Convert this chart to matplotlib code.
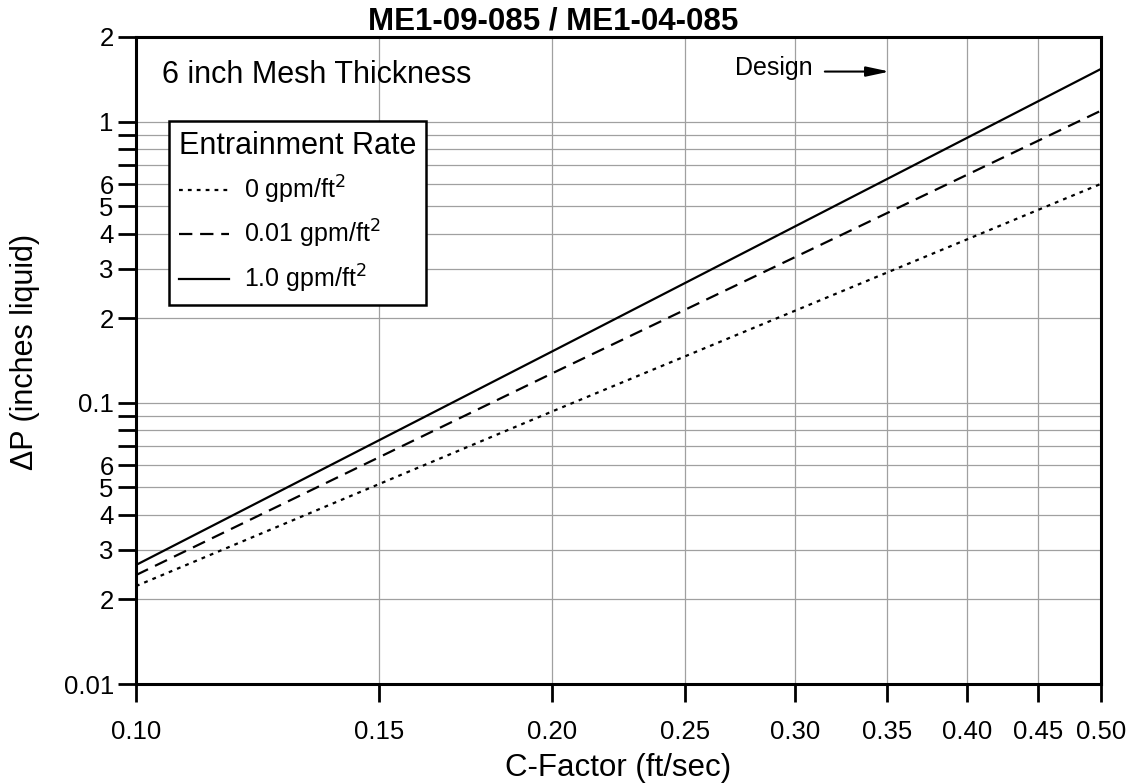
import matplotlib
matplotlib.use("Agg")
import matplotlib.pyplot as plt
from matplotlib.ticker import FixedLocator, FixedFormatter, NullLocator

plt.rcParams['font.family'] = ['Liberation Sans', 'DejaVu Sans']

# Data
c_factor = [0.10, 0.20, 0.50]
dp_0 = [0.0223, 0.093, 0.601]
dp_001 = [0.0244, 0.127, 1.094]
dp_10 = [0.0265, 0.152, 1.54]
series_labels = ["0 gpm/ft$^2$", "0.01 gpm/ft$^2$", "1.0 gpm/ft$^2$"]

x_ticks = [0.10, 0.15, 0.20, 0.25, 0.30, 0.35, 0.40, 0.45, 0.50]
x_tick_labels = ["0.10", "0.15", "0.20", "0.25", "0.30", "0.35", "0.40", "0.45", "0.50"]
y_ticks = [0.01, 0.02, 0.03, 0.04, 0.05, 0.06, 0.07, 0.08, 0.09,
           0.1, 0.2, 0.3, 0.4, 0.5, 0.6, 0.7, 0.8, 0.9, 1, 2]
y_tick_labels = ["0.01", "2", "3", "4", "5", "6", "", "", "",
                 "0.1", "2", "3", "4", "5", "6", "", "", "", "1", "2"]

fig = plt.figure(figsize=(11.33, 7.84), dpi=100)
ax = fig.add_axes([136/1133, 1-684/784, (1101-136)/1133, (684-37)/784])
ax.set_xscale('log')
ax.set_yscale('log')
ax.set_xlim(0.10, 0.50)
ax.set_ylim(0.01, 2)

ax.plot(c_factor, dp_0, color='black', lw=1.6, linestyle=(0, (1.7, 2.3)), label=series_labels[0])
ax.plot(c_factor, dp_001, color='black', lw=1.6, linestyle=(0, (6, 3.5)), label=series_labels[1])
ax.plot(c_factor, dp_10, color='black', lw=1.6, linestyle='-', label=series_labels[2])

ax.xaxis.set_major_locator(FixedLocator(x_ticks))
ax.xaxis.set_major_formatter(FixedFormatter(x_tick_labels))
ax.xaxis.set_minor_locator(NullLocator())
ax.yaxis.set_major_locator(FixedLocator(y_ticks))
ax.yaxis.set_major_formatter(FixedFormatter(y_tick_labels))
ax.yaxis.set_minor_locator(NullLocator())

ax.tick_params(axis='both', direction='out', length=13, width=2, labelsize=18.5, colors='black')
ax.tick_params(axis='x', pad=13)
ax.tick_params(axis='y', pad=3)

ax.grid(True, which='major', color='#a0a0a0', lw=0.9)
for s in ax.spines.values():
    s.set_linewidth(2.2)

ax.set_xlabel("C-Factor (ft/sec)", fontsize=22.5)
ax.xaxis.set_label_coords(0.5, -(753 - 684) / 647)
ax.set_ylabel("\u0394P (inches liquid)", fontsize=22)
ax.yaxis.set_label_coords(-(136 - 25) / 965, (684 - 352) / 647)
ax.yaxis.label.set_va('center')

fig.text(553/1133, 1-22/784, "ME1-09-085 / ME1-04-085", fontsize=22.5, fontweight='bold',
         ha='center', va='center')

ax.text(0.1045, 1.47, "6 inch Mesh Thickness", fontsize=22, ha='left', va='center')

ax.annotate("", xy=(0.353, 1.507), xytext=(0.314, 1.507),
            arrowprops=dict(arrowstyle='-|>,head_length=1.4,head_width=0.3', color='black', lw=1.5))
ax.text(0.309, 1.465, "Design", fontsize=18, ha='right', va='baseline')

leg = ax.legend(loc='upper left', bbox_to_anchor=(33/965, (684-121)/647),
                title="Entrainment Rate", fontsize=18, title_fontsize=22,
                frameon=True, fancybox=False, edgecolor='black', framealpha=1,
                handlelength=2.0, borderpad=0.4, labelspacing=0.5, handletextpad=0.6,
                borderaxespad=0)
leg.get_frame().set_linewidth(1.8)
leg._legend_box.align = "left"

fig.savefig("out.png", dpi=100)
